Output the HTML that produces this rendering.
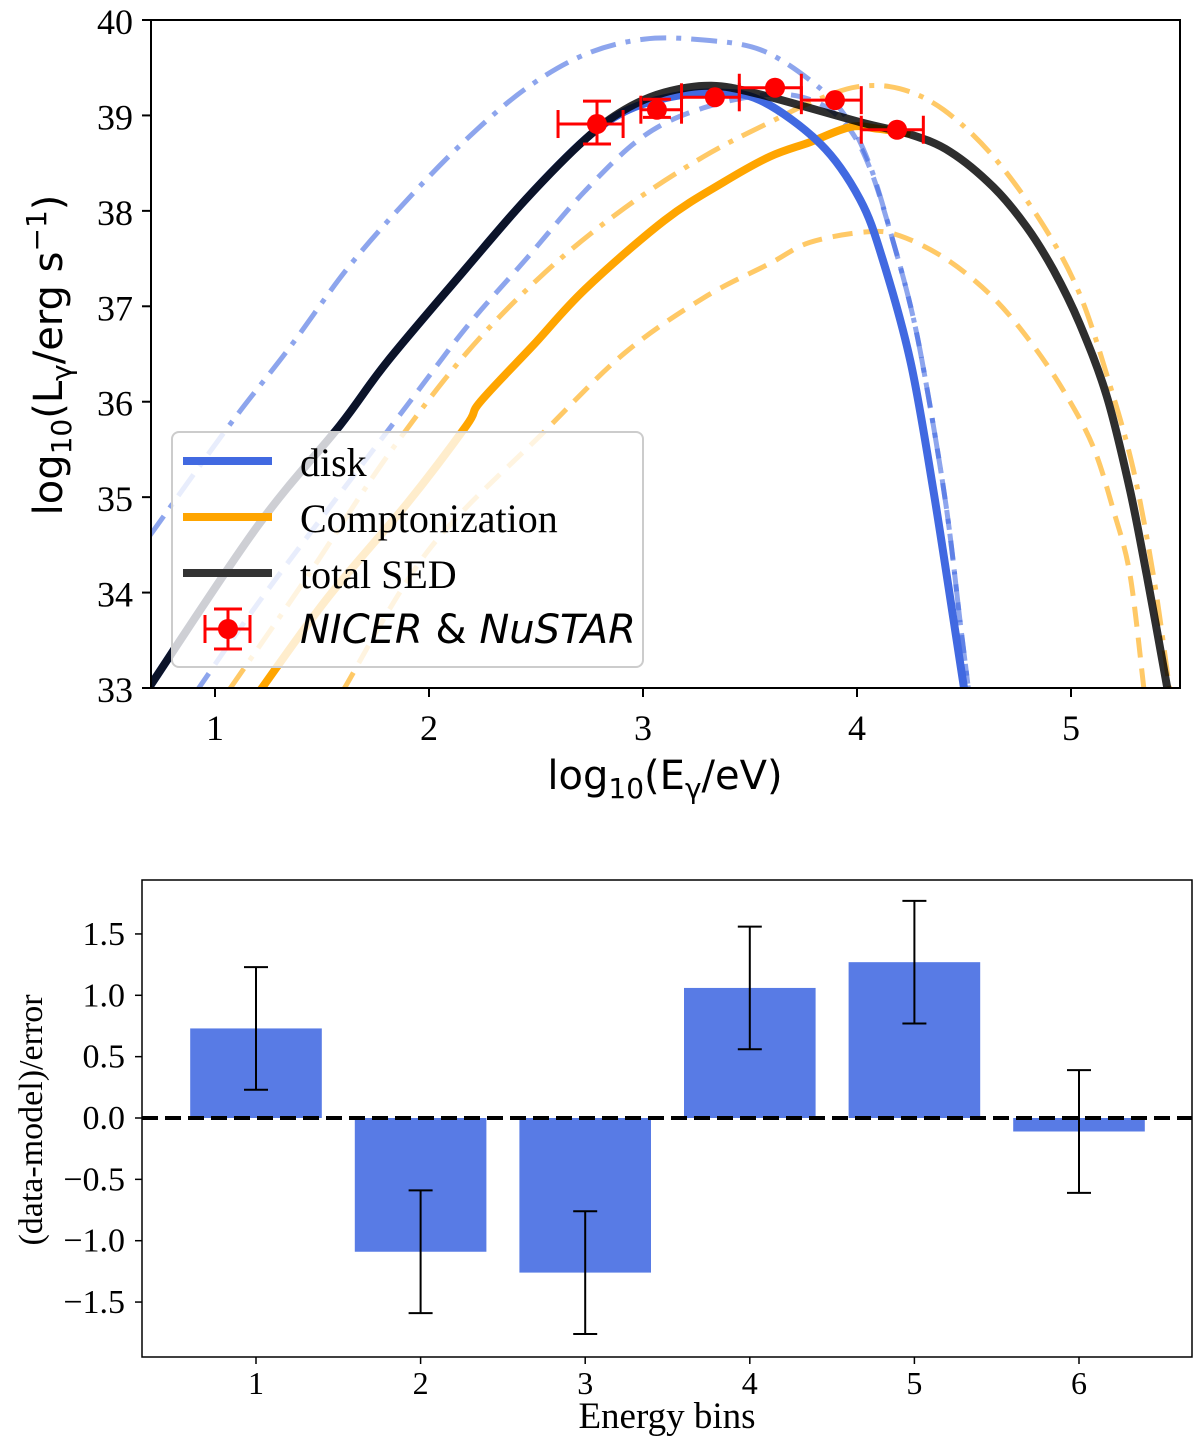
<!DOCTYPE html>
<html><head><meta charset="utf-8"><style>
body{margin:0;background:#fff}
svg{display:block}
.tk{font-family:"Liberation Serif",serif;font-size:36px;fill:#000}
.tk2{font-family:"Liberation Serif",serif;font-size:32px;fill:#000}
.lab{font-family:"DejaVu Sans",sans-serif;font-size:40px;fill:#000}
</style></head><body>
<svg id="c" width="1200" height="1436" viewBox="0 0 1200 1436">
<defs>
<clipPath id="top"><rect x="151" y="20" width="1029" height="668"/></clipPath>
</defs>
<g id="g1" clip-path="url(#top)"></g>
<g id="g1a"></g>
<g id="g2"></g>
</svg>
<script>
// ---- SED data ----
const blackX=[0.69,1.2,1.583,1.805,2.174,2.452,2.73,2.914,3.1,3.32,3.547,4.014,4.25,4.435,4.637,4.793,4.918,5.04,5.167,5.276,5.354,5.45];
const blackY=[33.0,34.7,35.75,36.42,37.4,38.12,38.75,39.06,39.24,39.31,39.22,38.93,38.8,38.62,38.25,37.83,37.38,36.82,36.06,35.07,34.18,33.0];
const diskX=[0.69,1.2,1.583,1.805,2.174,2.452,2.73,2.914,3.1,3.32,3.547,3.83,4.014,4.12,4.25,4.357,4.45,4.5];
const diskY=[33.0,34.7,35.75,36.42,37.4,38.12,38.75,39.04,39.18,39.24,39.16,38.70,38.12,37.49,36.42,35.07,33.73,33.0];
const compX=[1.213,1.528,1.9,2.175,2.24,2.49,2.73,3.1,3.376,3.594,3.78,3.97,4.1,4.25];
const compY=[32.98,33.95,34.94,35.75,36.0,36.6,37.18,37.9,38.3,38.57,38.72,38.88,38.86,38.81];
const bddX=[0.69,1.066,1.343,1.62,1.9,2.175,2.452,2.73,3.007,3.284,3.547,3.78,3.94,4.06,4.17,4.264,4.34,4.42,4.48,4.52];
const bddY=[34.58,35.75,36.55,37.4,38.12,38.75,39.28,39.64,39.8,39.79,39.69,39.37,39.01,38.48,37.67,36.87,35.97,34.85,33.73,33.0];
const bdX=[0.918,1.25,1.9,2.175,2.452,2.73,3.007,3.284,3.594,3.8,3.95,4.06,4.17,4.264,4.34,4.42,4.48,4.52];
const bdY=[32.98,34.04,35.97,36.78,37.49,38.21,38.79,39.08,39.22,39.15,38.9,38.45,37.67,36.87,35.97,34.85,33.73,33.0];
const oddX=[1.066,1.435,1.805,2.175,2.545,2.914,3.284,3.594,3.8,4.0,4.2,4.404,4.637,4.87,5.04,5.18,5.29,5.385,5.46];
const oddY=[32.98,34.18,35.43,36.51,37.36,38.03,38.57,38.93,39.15,39.3,39.28,39.06,38.57,37.85,37.13,36.19,35.3,34.18,33.0];
const odX=[1.6,2.0,2.545,2.914,3.284,3.594,3.78,4.045,4.2,4.42,4.637,4.82,4.98,5.105,5.2,5.276,5.34];
const odY=[32.98,34.45,35.7,36.51,37.09,37.45,37.67,37.78,37.74,37.49,37.09,36.6,36.06,35.52,34.85,34.18,33.0];
const ptX=[2.785,3.065,3.336,3.617,3.897,4.187];
const ptY=[38.91,39.06,39.19,39.29,39.16,38.85];
const ptXlo=[2.603,2.99,3.18,3.45,3.74,4.02];
const ptXhi=[2.907,3.18,3.45,3.74,4.02,4.31];
const ptYlo=[38.70,38.98,39.19,39.29,39.16,38.85];
const ptYhi=[39.15,39.17,39.19,39.29,39.16,38.85];
const xTicks=[1,2,3,4,5];
const yTicks=[33,34,35,36,37,38,39,40];
// ---- residual data ----
const bins=[1,2,3,4,5,6];
const resid=[0.73,-1.09,-1.26,1.06,1.27,-0.11];
const residErr=[0.5,0.5,0.5,0.5,0.5,0.5];
const rTicks=[-1.5,-1.0,-0.5,0.0,0.5,1.0,1.5];
const rTickLabels=["\u22121.5","\u22121.0","\u22120.5","0.0","0.5","1.0","1.5"];

const NS="http://www.w3.org/2000/svg";
function mk(p,t,a){const e=document.createElementNS(NS,t);for(const k in a)e.setAttribute(k,a[k]);p.appendChild(e);return e;}
const sx=x=>215+(x-1)*214, sy=y=>20+(40-y)*95.43;
const g1=document.getElementById('g1'), g1a=document.getElementById('g1a'), g2=document.getElementById('g2');
function smoothPath(P){
  let d='M'+P[0][0].toFixed(1)+','+P[0][1].toFixed(1);
  for(let i=0;i<P.length-1;i++){
    const p0=P[i-1]||P[i],p1=P[i],p2=P[i+1],p3=P[i+2]||P[i+1];
    const c1=[p1[0]+(p2[0]-p0[0])/6,p1[1]+(p2[1]-p0[1])/6];
    const c2=[p2[0]-(p3[0]-p1[0])/6,p2[1]-(p3[1]-p1[1])/6];
    d+='C'+c1.map(v=>v.toFixed(1)).join(',')+' '+c2.map(v=>v.toFixed(1)).join(',')+' '+p2[0].toFixed(1)+','+p2[1].toFixed(1);
  }
  return d;
}
function curve(X,Y,st,name){
  const P=X.map((x,i)=>[sx(x),sy(Y[i])]);
  const p=mk(g1,'path',Object.assign({d:smoothPath(P),fill:'none','stroke-linejoin':'round'},st));
  
  
}
curve(bddX,bddY,{stroke:'#4169e1','stroke-opacity':0.6,'stroke-width':5,'stroke-dasharray':'26 10 5 10'},'disk-dashdot-curve');
curve(bdX,bdY,{stroke:'#4169e1','stroke-opacity':0.6,'stroke-width':5,'stroke-dasharray':'20 11'},'disk-dashed-curve');
curve(oddX,oddY,{stroke:'#ffa500','stroke-opacity':0.6,'stroke-width':5,'stroke-dasharray':'26 10 5 10'},'compton-dashdot-curve');
curve(odX,odY,{stroke:'#ffa500','stroke-opacity':0.6,'stroke-width':5,'stroke-dasharray':'20 11'},'compton-dashed-curve');
curve(compX,compY,{stroke:'#ffa500','stroke-width':8},'comptonization-curve');
curve(diskX,diskY,{stroke:'#4169e1','stroke-width':8},'disk-curve');
curve(blackX,blackY,{stroke:'#000','stroke-opacity':0.82,'stroke-width':8},'total-sed-curve');
for(let i=0;i<ptX.length;i++){
  const g=mk(g1,'g',{stroke:'#f00','stroke-width':3,fill:'#f00'});
  
  
  const cx=sx(ptX[i]),cy=sy(ptY[i]);
  mk(g,'line',{x1:sx(ptXlo[i]),x2:sx(ptXhi[i]),y1:cy,y2:cy});
  mk(g,'line',{x1:sx(ptXlo[i]),x2:sx(ptXlo[i]),y1:cy-14,y2:cy+14});
  mk(g,'line',{x1:sx(ptXhi[i]),x2:sx(ptXhi[i]),y1:cy-14,y2:cy+14});
  if(ptYhi[i]-ptYlo[i]>0.01){
    mk(g,'line',{x1:cx,x2:cx,y1:sy(ptYhi[i]),y2:sy(ptYlo[i])});
    mk(g,'line',{x1:cx-14,x2:cx+14,y1:sy(ptYhi[i]),y2:sy(ptYhi[i])});
    mk(g,'line',{x1:cx-14,x2:cx+14,y1:sy(ptYlo[i]),y2:sy(ptYlo[i])});
  }
  mk(g,'circle',{cx:cx,cy:cy,r:10,stroke:'none'});
}
// legend
const lg=mk(g1,'g',{});


mk(lg,'rect',{x:172,y:432,width:471,height:235,rx:7,fill:'#fff','fill-opacity':0.8,stroke:'#ccc','stroke-width':2});
const le=[['#4169e1','disk',463],['#ffa500','Comptonization',519],['#333','total SED',575]];
le.forEach((e,i)=>{
  mk(lg,'line',{x1:183,x2:272,y1:e[2]-2,y2:e[2]-2,stroke:e[0],'stroke-width':8});
  const t=mk(lg,'text',{x:300,y:e[2]+13,class:'tk',style:'font-size:40px'});t.textContent=e[1];
  
  
});
const lp=mk(lg,'g',{stroke:'#f00','stroke-width':3});
mk(lp,'line',{x1:205,x2:250,y1:629,y2:629});mk(lp,'line',{x1:205,x2:205,y1:615,y2:643});mk(lp,'line',{x1:250,x2:250,y1:615,y2:643});
mk(lp,'line',{x1:228,x2:228,y1:609,y2:649});mk(lp,'line',{x1:214,x2:242,y1:609,y2:609});mk(lp,'line',{x1:214,x2:242,y1:649,y2:649});
mk(lp,'circle',{cx:228,cy:629,r:10,fill:'#f00',stroke:'none'});
const lt=mk(lg,'text',{x:300,y:643,class:'lab'});
lt.innerHTML='<tspan font-style="italic">NICER</tspan> &amp; <tspan font-style="italic">NuSTAR</tspan>';


// axes top
mk(g1a,'rect',{x:151,y:20,width:1029,height:668,fill:'none',stroke:'#000','stroke-width':2});
xTicks.forEach(v=>{mk(g1a,'line',{x1:sx(v),x2:sx(v),y1:688,y2:697,stroke:'#000','stroke-width':2});
  const t=mk(g1a,'text',{x:sx(v),y:740,class:'tk','text-anchor':'middle'});t.textContent=v;
  });
yTicks.forEach(v=>{mk(g1a,'line',{x1:142,x2:151,y1:sy(v),y2:sy(v),stroke:'#000','stroke-width':2});
  const t=mk(g1a,'text',{x:133,y:sy(v)+14,class:'tk','text-anchor':'end'});t.textContent=v;
  });
const xl=mk(g1a,'text',{x:665,y:789,class:'lab','text-anchor':'middle'});
xl.innerHTML='log<tspan font-size="28" dy="9">10</tspan><tspan dy="-9">(E</tspan><tspan font-size="28" dy="9">γ</tspan><tspan dy="-9">/eV)</tspan>';

const yl=mk(g1a,'text',{x:0,y:0,class:'lab','text-anchor':'middle',transform:'translate(62,355) rotate(-90)'});
yl.innerHTML='log<tspan font-size="28" dy="9">10</tspan><tspan dy="-9">(L</tspan><tspan font-size="28" dy="9">γ</tspan><tspan dy="-9">/erg s</tspan><tspan font-size="28" dy="-16">−1</tspan><tspan dy="16">)</tspan>';

// residual plot
const bx=b=>256+(b-1)*164.6, by=v=>1118-v*122.7;
bins.forEach((b,i)=>{
  const v=resid[i];
  const r=mk(g2,'rect',{x:bx(b)-65.8,y:Math.min(by(0),by(v)),width:131.6,height:Math.abs(by(v)-by(0)),fill:'#4169e1','fill-opacity':0.88});
  
});
const zl=mk(g2,'line',{x1:142,x2:1192,y1:by(0),y2:by(0),stroke:'#000','stroke-width':4,'stroke-dasharray':'16 7'});


bins.forEach((b,i)=>{
  const v=resid[i],e=residErr[i],x=bx(b);
  const g=mk(g2,'g',{stroke:'#000','stroke-width':2});
  
  mk(g,'line',{x1:x,x2:x,y1:by(v+e),y2:by(v-e)});
  mk(g,'line',{x1:x-12,x2:x+12,y1:by(v+e),y2:by(v+e)});
  mk(g,'line',{x1:x-12,x2:x+12,y1:by(v-e),y2:by(v-e)});
});
mk(g2,'rect',{x:142,y:880,width:1050,height:477,fill:'none',stroke:'#000','stroke-width':1.5});
bins.forEach(b=>{mk(g2,'line',{x1:bx(b),x2:bx(b),y1:1357,y2:1364,stroke:'#000','stroke-width':1.5});
  const t=mk(g2,'text',{x:bx(b),y:1394,class:'tk2','text-anchor':'middle'});t.textContent=b;
  });
rTicks.forEach((v,i)=>{mk(g2,'line',{x1:135,x2:142,y1:by(v),y2:by(v),stroke:'#000','stroke-width':1.5});
  const t=mk(g2,'text',{x:125,y:by(v)+11,class:'tk2','text-anchor':'end',style:'font-size:34px'});t.textContent=rTickLabels[i];
  });
const bxl=mk(g2,'text',{x:667,y:1428,class:'tk2','text-anchor':'middle',style:'font-size:37px'});bxl.textContent='Energy bins';

const byl=mk(g2,'text',{x:0,y:0,class:'tk2','text-anchor':'middle',style:'font-size:34px',transform:'translate(42,1120) rotate(-90)'});byl.textContent='(data-model)/error';

</script>
</body></html>
